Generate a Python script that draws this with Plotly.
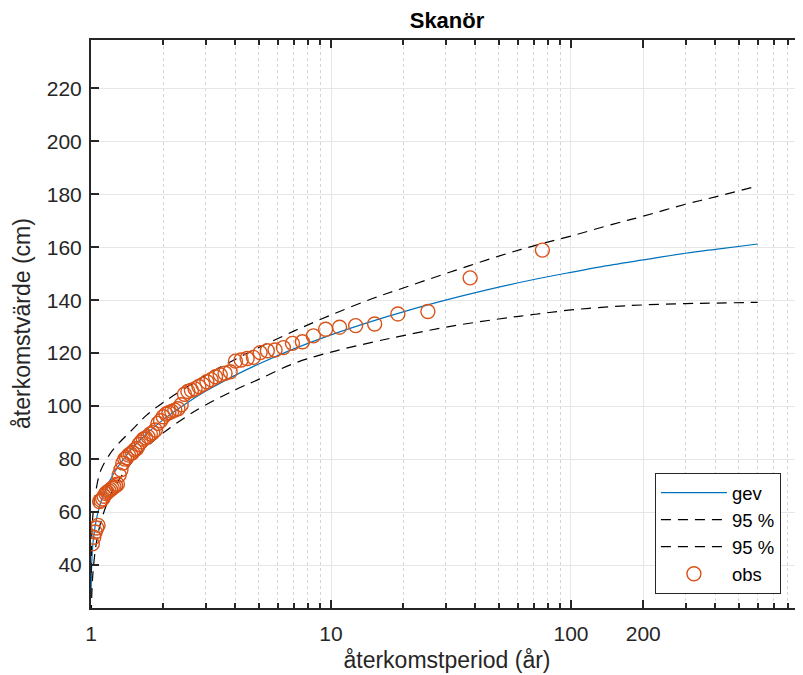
import plotly.graph_objects as go

# return periods for the fitted curve and confidence bounds
period = [1.001, 1.005, 1.01, 1.02, 1.05, 1.1, 1.2, 1.3, 1.5, 1.7, 2, 2.5, 3, 4, 5, 7,
          10, 15, 20, 30, 50, 70, 100, 150, 200, 300, 400, 600]
gev = [28.7, 38.4, 43.2, 48.6, 56.7, 63.9, 72.0, 77.3, 84.5, 89.5, 94.9, 101.1, 105.6,
       111.7, 115.9, 121.6, 126.9, 132.2, 135.6, 140.0, 144.9, 147.8, 150.5, 153.4,
       155.2, 157.7, 159.2, 161.2]
upper = [37.0, 48.0, 53.5, 59.5, 68.5, 75.9, 82.0, 85.8, 91.5, 96.5, 101.4, 107.1, 111.6,
         117.7, 122.1, 128.3, 134.4, 140.7, 144.6, 150.0, 156.6, 160.5, 164.2, 168.7,
         171.7, 176.2, 179.0, 183.1]
lower = [14.7, 25.4, 31.2, 37.6, 47.7, 56.4, 66.0, 71.8, 79.5, 84.5, 89.9, 96.1, 100.4,
         106.2, 110.1, 116.1, 120.4, 124.2, 126.6, 129.8, 132.9, 134.6, 136.3, 137.6,
         138.2, 138.7, 138.9, 139.2]

# observed annual maxima, plotting-position return period
obs_period = [76, 38, 25.333, 19, 15.2, 12.667, 10.857, 9.5, 8.444, 7.6, 6.909, 6.333,
              5.846, 5.429, 5.067, 4.75, 4.471, 4.222, 4.0, 3.8, 3.619, 3.455, 3.304,
              3.167, 3.04, 2.923, 2.815, 2.714, 2.621, 2.533, 2.452, 2.375, 2.303, 2.235,
              2.171, 2.111, 2.054, 2.0, 1.949, 1.9, 1.854, 1.81, 1.767, 1.727, 1.689,
              1.652, 1.617, 1.583, 1.551, 1.52, 1.49, 1.462, 1.434, 1.407, 1.382, 1.357,
              1.333, 1.31, 1.288, 1.267, 1.246, 1.226, 1.206, 1.188, 1.169, 1.152, 1.134,
              1.118, 1.101, 1.086, 1.07, 1.056, 1.041, 1.027, 1.013]
obs_value = [158.9, 148.4, 135.7, 134.8, 131.0, 130.4, 129.8, 129.0, 126.5, 124.3, 123.7,
             122.1, 121.2, 120.9, 120.2, 118.4, 118.0, 117.4, 117.0, 113.0, 112.4, 111.8,
             111.1, 110.0, 109.2, 108.2, 107.4, 106.5, 106.0, 105.5, 104.5, 100.5, 99.0,
             98.5, 98.0, 97.5, 97.0, 96.0, 94.5, 93.5, 91.0, 90.0, 89.5, 88.5, 88.0, 87.5,
             86.5, 85.5, 84.0, 83.5, 82.5, 82.0, 81.5, 80.5, 80.0, 78.5, 76.0, 74.0, 70.5,
             70.0, 69.5, 69.0, 68.5, 68.0, 67.5, 67.0, 66.0, 65.0, 64.5, 64.0, 55.0, 54.0,
             52.5, 50.5, 48.0]

x_ticks = [1, 10, 100, 200]
x_minor = [2, 3, 4, 5, 6, 7, 8, 9, 20, 30, 40, 50, 60, 70, 80, 90,
           300, 400, 500, 600, 700, 800, 900]
y_ticks = [40, 60, 80, 100, 120, 140, 160, 180, 200, 220]

font = "Liberation Sans, Arial, sans-serif"
ink = "#262626"

fig = go.Figure()
fig.add_trace(go.Scatter(x=period, y=gev, mode="lines", name="gev",
                         line=dict(color="#0072BD", width=1.2, shape="spline")))
fig.add_trace(go.Scatter(x=period, y=upper, mode="lines", name="95 %",
                         line=dict(color="black", width=1.2, dash="10px,7px", shape="spline")))
fig.add_trace(go.Scatter(x=period, y=lower, mode="lines", name="95 %",
                         line=dict(color="black", width=1.2, dash="10px,7px", shape="spline")))
fig.add_trace(go.Scatter(x=obs_period, y=obs_value, mode="markers", name="obs",
                         marker=dict(symbol="circle-open", size=14,
                                     color="#D95319", line=dict(width=1.4))))

fig.update_xaxes(type="log", range=[0, 2.9667], automargin=False,
                 tickvals=x_ticks, ticktext=[str(v) for v in x_ticks],
                 ticks="inside", ticklen=8, tickwidth=1.5, tickcolor=ink,
                 showline=True, linecolor=ink, linewidth=2, mirror="ticks",
                 showgrid=True, gridcolor="#e6e6e6", gridwidth=1,
                 minor=dict(tickvals=x_minor, ticks="inside", ticklen=5, tickcolor=ink,
                            showgrid=True, gridcolor="#d4d4d4", griddash="dot", gridwidth=1),
                 zeroline=False, ticklabelstandoff=6,
                 tickfont=dict(family=font, size=21, color=ink),
                 title=dict(text="återkomstperiod (år)",
                            font=dict(family=font, size=23, color=ink), standoff=8))
fig.update_yaxes(range=[23.8, 238.2], tickvals=y_ticks, automargin=False,
                 ticks="inside", ticklen=8, tickwidth=1.5, tickcolor=ink,
                 showline=True, linecolor=ink, linewidth=2,
                 showgrid=True, gridcolor="#e6e6e6", gridwidth=1, zeroline=False,
                 ticklabelstandoff=3,
                 tickfont=dict(family=font, size=21, color=ink))

# y-axis label placed by hand, plotly's standoff cannot bring it close enough
fig.add_annotation(text="återkomstvärde (cm)", xref="paper", yref="paper",
                   x=-0.0969, y=0.5, xanchor="center", yanchor="middle",
                   textangle=-90, showarrow=False,
                   font=dict(family=font, size=23, color=ink))

fig.update_layout(
    width=803, height=675,
    margin=dict(l=83, r=8, t=32, b=75),
    paper_bgcolor="white", plot_bgcolor="white",
    title=dict(text="<b>Skanör</b>", x=0.5467, xanchor="center", y=0.982, yanchor="middle",
               font=dict(family=font, size=22, color="black")),
    legend=dict(x=0.969, y=0.0246, xanchor="right", yanchor="bottom",
                bgcolor="white", bordercolor=ink, borderwidth=1,
                font=dict(family=font, size=18.5, color="black"),
                itemwidth=66, tracegroupgap=0),
    showlegend=True,
)

fig.write_html("out.html")
